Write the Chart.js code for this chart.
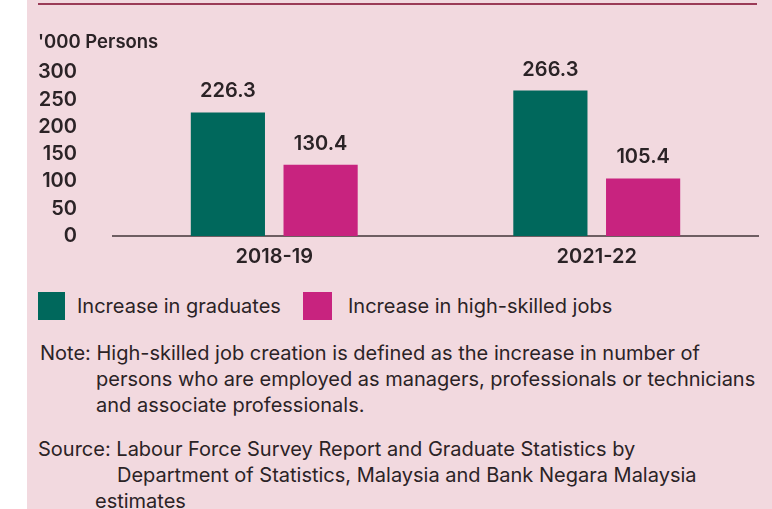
<!DOCTYPE html>
<html>
<head>
<meta charset="utf-8">
<script src="https://cdn.jsdelivr.net/npm/chart.js@4.4.1/dist/chart.umd.min.js"></script>
<style>
    html, body { margin: 0; padding: 0; background: #ffffff; }
    body { width: 772px; height: 509px; position: relative; overflow: hidden; font-family: Inter, "Liberation Sans", sans-serif; color: #2b2326; }
    .panel { position: absolute; left: 27px; top: 0; width: 745px; height: 509px; background: #f2d9df; }
    .rule { position: absolute; left: 38px; top: 3px; width: 719px; height: 2px; background: #9b3b57; }
    .chart-box { position: absolute; left: 27px; top: 0; width: 745px; height: 285px; }
    #legend { position: absolute; left: 38px; top: 292px; margin: 0; padding: 0; list-style: none; display: flex; }
    #legend li { display: flex; align-items: center; height: 28px; font-size: 20px; }
    #legend li span.box { width: 27px; height: 28px; margin-right: 12px; }
    #legend li:first-child { width: 265px; }
    #legend li:nth-child(2) span.box { width: 29px; margin-right: 16px; }
    .notes { position: absolute; left: 0; font-size: 20px; line-height: 26px; white-space: nowrap; }
    .notes div { position: relative; }
</style>
</head>
<body>
<div class="panel"></div>
<div class="rule"></div>
<div class="chart-box"><canvas id="graficoEmpleo"></canvas></div>
<ul id="legend"></ul>

<div class="notes" style="top: 340px;">
    <div style="left: 40px;">Note: High-skilled job creation is defined as the increase in number of</div>
    <div style="left: 96px;">persons who are employed as managers, professionals or technicians</div>
    <div style="left: 96px;">and associate professionals.</div>
</div>
<div class="notes" style="top: 436px;">
    <div style="left: 38px;">Source: Labour Force Survey Report and Graduate Statistics by</div>
    <div style="left: 117px;">Department of Statistics, Malaysia and Bank Negara Malaysia</div>
    <div style="left: 95px;">estimates</div>
</div>

<script>
const periodos = ['2018-19', '2021-22'];
const graduados = [226.3, 266.3];
const empleosCualificados = [130.4, 105.4];
const nombresSeries = ['Increase in graduates', 'Increase in high-skilled jobs'];
const ticksY = [0, 50, 100, 150, 200, 250, 300];

const colorVerde = '#00685c';
const colorRosa = '#c8237f';
const colorTexto = '#2b2326';
const fuenteNum = { family: 'Inter', size: 20, weight: '600' };

// etiquetas de valor encima de cada barra
const etiquetasValor = {
    id: 'etiquetasValor',
    afterDatasetsDraw(chart) {
        const ctx = chart.ctx;
        ctx.save();
        ctx.font = '600 20px Inter';
        ctx.fillStyle = colorTexto;
        ctx.textAlign = 'center';
        ctx.textBaseline = 'middle';
        chart.data.datasets.forEach((ds, i) => {
            chart.getDatasetMeta(i).data.forEach((bar, j) => {
                ctx.fillText(ds.data[j].toFixed(1), bar.x, bar.y - 21);
            });
        });
        ctx.restore();
    }
};

// leyenda en HTML a partir de las etiquetas de Chart.js
const leyendaHtml = {
    id: 'leyendaHtml',
    afterUpdate(chart) {
        const ul = document.getElementById('legend');
        ul.innerHTML = '';
        chart.options.plugins.legend.labels.generateLabels(chart).forEach(item => {
            const li = document.createElement('li');
            const box = document.createElement('span');
            box.className = 'box';
            box.style.background = item.fillStyle;
            li.appendChild(box);
            li.appendChild(document.createTextNode(item.text));
            ul.appendChild(li);
        });
    }
};

const ctx = document.getElementById('graficoEmpleo');

new Chart(ctx.getContext('2d'), {
    type: 'bar',
    data: {
        labels: periodos,
        datasets: [{
            label: nombresSeries[0],
            data: graduados,
            backgroundColor: colorVerde,
            borderWidth: 0
        }, {
            label: nombresSeries[1],
            data: empleosCualificados,
            backgroundColor: colorRosa,
            borderWidth: 0
        }]
    },
    options: {
        responsive: true,
        maintainAspectRatio: false,
        animation: false,
        layout: { padding: { left: 11, right: 14, top: 31, bottom: 7 } },
        datasets: {
            bar: { categoryPercentage: 0.575, barPercentage: 0.8 }
        },
        plugins: {
            legend: { display: false },
            tooltip: { enabled: false },
            title: {
                display: true,
                text: "'000 Persons",
                align: 'start',
                color: colorTexto,
                font: { family: 'Inter', size: 18.5, weight: '600', lineHeight: 1.2 },
                padding: { top: 0, bottom: 19 }
            }
        },
        scales: {
            x: {
                grid: { display: false, drawTicks: false },
                border: { display: true, color: '#6e5e62', width: 2 },
                ticks: { color: colorTexto, font: fuenteNum, padding: 9 }
            },
            y: {
                min: 0,
                max: 300,
                afterFit: s => { s.width = 75; },
                afterBuildTicks: s => { s.ticks = ticksY.map(v => ({ value: v })); },
                grid: { display: false, drawTicks: false },
                border: { display: false },
                ticks: { color: colorTexto, font: fuenteNum, padding: 36 }
            }
        }
    },
    plugins: [etiquetasValor, leyendaHtml]
});
</script>
</body>
</html>
